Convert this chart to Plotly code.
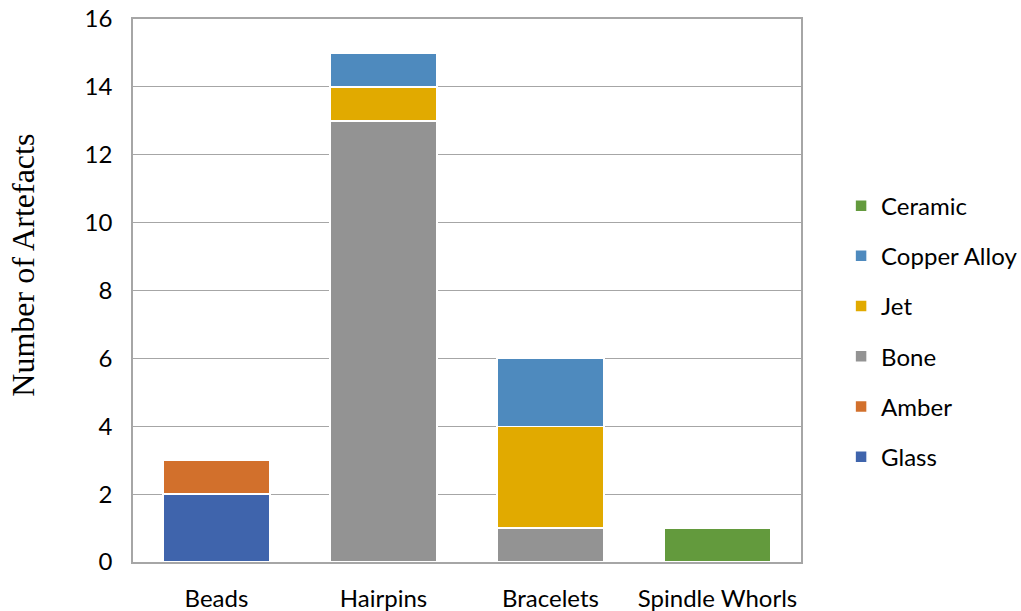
import plotly.graph_objects as go

categories = ['Beads', 'Hairpins', 'Bracelets', 'Spindle Whorls']

# counts per material, stacked bottom -> top
glass = [2, 0, 0, 0]
amber = [1, 0, 0, 0]
bone = [0, 13, 1, 0]
jet = [0, 1, 3, 0]
copper_alloy = [0, 1, 2, 0]
ceramic = [0, 0, 0, 1]

series = [
    ('Glass', glass, '#3F64AC'),
    ('Amber', amber, '#D2702C'),
    ('Bone', bone, '#939393'),
    ('Jet', jet, '#E1AA00'),
    ('Copper Alloy', copper_alloy, '#4E8ABE'),
    ('Ceramic', ceramic, '#639A3D'),
]

fig = go.Figure()
for i, (name, vals, col) in enumerate(series):
    fig.add_trace(go.Bar(
        x=categories, y=vals, name=name, legendgroup=name,
        legendrank=len(series) - i,
        marker=dict(color=col, line=dict(color='white', width=1.5)),
    ))

fig.update_layout(
    barmode='stack',
    bargap=0.36,
    width=1021, height=611,
    margin=dict(l=133, r=220, t=19, b=49, autoexpand=False),
    plot_bgcolor='white', paper_bgcolor='white',
    font=dict(family='Lato, Open Sans, sans-serif', size=24, color='#000000'),
    legend=dict(x=1.060, xanchor='left', y=0.697, yanchor='top',
                traceorder='grouped', tracegroupgap=16,
                font=dict(size=24)),
    annotations=[dict(text='Number of Artefacts', textangle=-90,
                      xref='paper', yref='paper', x=-0.166, y=0.546,
                      xanchor='center', yanchor='middle', showarrow=False,
                      font=dict(family='Liberation Serif, serif', size=32))],
)
fig.update_xaxes(showline=True, mirror=True, linecolor='#A6A6A6', linewidth=1.5,
                 ticks='', ticklabelstandoff=14, automargin=False)
fig.update_yaxes(range=[0, 16], dtick=2, showgrid=True, gridcolor='#A6A6A6', gridwidth=1.2,
                 showline=True, mirror=True, linecolor='#A6A6A6', linewidth=1.5,
                 zeroline=False, ticks='', ticklabelstandoff=14, automargin=False)

# drop the default page margin so the figure sits at the window corner
fig.write_html("out.html", config={'displayModeBar': False},
               post_script="document.body.style.margin='0';")
